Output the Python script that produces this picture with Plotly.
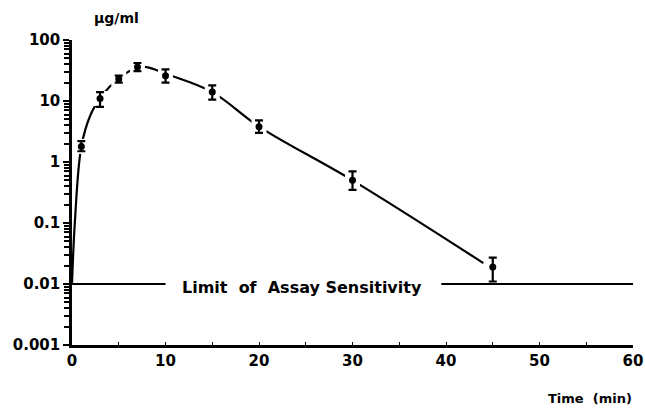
import plotly.graph_objects as go

# Measured points (mean with error bars)
time_pts = [1, 3, 5, 7, 10, 15, 20, 30, 45]
conc_pts = [1.8, 11, 23, 36, 26, 14, 3.8, 0.5, 0.019]
err_plus = [0.4, 3, 3, 6, 7, 4, 1.0, 0.2, 0.008]
err_minus = [0.3, 3, 3, 5, 6, 3.5, 0.8, 0.15, 0.008]

# Fitted curve
curve_time = [0, 0.3, 1, 2, 3, 4, 5, 6, 7, 8, 10, 15, 20, 30, 44]
curve_conc = [0.01, 0.1, 1.8, 6, 11, 17, 23, 30, 35, 36, 28, 14, 3.8, 0.5, 0.022]

# Limit of assay sensitivity line
limit_time_a = [0, 10]
limit_time_b = [39.5, 60]
limit_value = 0.01

x_ticks = [0, 10, 20, 30, 40, 50, 60]
y_ticks = [0.001, 0.01, 0.1, 1, 10, 100]
y_tick_text = ["0.001", "0.01", "0.1", "1", "10", "100"]
y_minor = [m * d for d in [0.001, 0.01, 0.1, 1, 10] for m in range(2, 10)]

FONT = "DejaVu Sans"
W, H = 645, 412
L, R, T, B = 72, 12, 40, 67
PW, PH = W - L - R, H - T - B


def px(xp):  # window pixel -> paper x
    return (xp - L) / PW


def py(yp):  # window pixel -> paper y
    return (H - B - yp) / PH


fig = go.Figure()
fig.add_trace(go.Scatter(x=curve_time, y=curve_conc, mode="lines",
                         line=dict(color="black", width=2.2, shape="spline"),
                         hoverinfo="skip", showlegend=False))
# white gaps around the measured points
fig.add_trace(go.Scatter(x=time_pts, y=conc_pts, mode="markers",
                         marker=dict(color="white", size=15, symbol="square"),
                         hoverinfo="skip", showlegend=False))
fig.add_trace(go.Scatter(x=limit_time_a, y=[limit_value] * 2, mode="lines",
                         line=dict(color="black", width=1.8), showlegend=False))
fig.add_trace(go.Scatter(x=limit_time_b, y=[limit_value] * 2, mode="lines",
                         line=dict(color="black", width=1.8), showlegend=False))
fig.add_trace(go.Scatter(x=time_pts, y=conc_pts, mode="markers",
                         marker=dict(color="black", size=7, symbol="circle"),
                         error_y=dict(type="data", array=err_plus, arrayminus=err_minus,
                                      color="black", thickness=2.2, width=4),
                         showlegend=False))

fig.add_annotation(x=24.6, y=-2.05, xref="x", yref="y",
                   text="<b>Limit &nbsp;of &nbsp;Assay Sensitivity</b>",
                   xanchor="center", yanchor="middle",
                   showarrow=False, font=dict(family=FONT, size=16, color="black"))
fig.add_annotation(x=px(116), y=py(18), xref="paper", yref="paper", text="<b>µg/ml</b>",
                   xanchor="center", yanchor="middle",
                   showarrow=False, font=dict(family=FONT, size=14, color="black"))
fig.add_annotation(x=px(590), y=py(398), xref="paper", yref="paper",
                   text="<b>Time  (min)</b>", xanchor="center", yanchor="middle",
                   showarrow=False, font=dict(family=FONT, size=13, color="black"))

fig.update_layout(
    width=W, height=H,
    margin=dict(l=L, r=R, t=T, b=B, autoexpand=False),
    paper_bgcolor="white", plot_bgcolor="white",
    font=dict(family=FONT, size=15, color="black"),
    xaxis=dict(range=[0, 60], tickvals=x_ticks, ticktext=[f"<b>{v}</b>" for v in x_ticks],
               showline=True, linecolor="black", linewidth=2.5, ticks="inside",
               ticklen=3, tickcolor="black", showgrid=False, zeroline=False,
               automargin=False, ticklabeloverflow="allow",
               minor=dict(dtick=5, ticks="inside", ticklen=3, tickcolor="black"),
               tickfont=dict(size=15)),
    yaxis=dict(type="log", range=[-3, 2], tickvals=y_ticks,
               ticktext=[f"<b>{t}</b>" for t in y_tick_text],
               showline=True, linecolor="black", linewidth=2.5, ticks="outside",
               ticklen=6, tickwidth=2, tickcolor="black", showgrid=False, zeroline=False,
               automargin=False,
               minor=dict(tickvals=y_minor, ticks="outside", ticklen=5, tickwidth=2,
                          tickcolor="black", showgrid=False),
               tickfont=dict(size=15)),
)
fig.write_html("out.html", config={"displayModeBar": False},
               post_script="document.body.style.margin='0';document.body.style.overflow='hidden';")
